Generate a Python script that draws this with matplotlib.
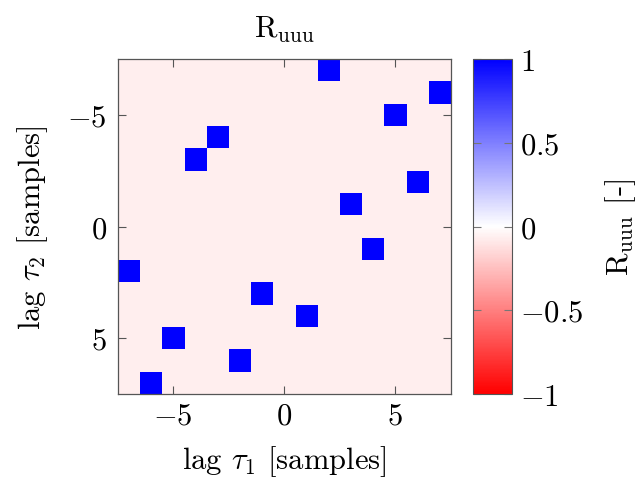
import numpy as np
import matplotlib
matplotlib.use('Agg')
import matplotlib.pyplot as plt
from matplotlib.colors import LinearSegmentedColormap

plt.rcParams['font.family'] = 'serif'
plt.rcParams['font.serif'] = ['cmr10', 'DejaVu Serif']
plt.rcParams['mathtext.fontset'] = 'cm'
plt.rcParams['axes.formatter.use_mathtext'] = True
plt.rcParams['axes.unicode_minus'] = True

# lags in samples
lags = np.arange(-7, 8)
# cells where R_uuu is 1 (tau1, tau2)
peak_tau1 = [2, 7, 5, -3, -4, 6, 3, 4, -7, -1, 1, -5, -2, -6]
peak_tau2 = [-7, -6, -5, -4, -3, -2, -1, 1, 2, 3, 4, 5, 6, 7]
peak_value = 1.0
background_value = -0.07

cbar_ticks = [-1, -0.5, 0, 0.5, 1]
cbar_labels = [r'$-1$', r'$-0.5$', r'$0$', r'$0.5$', r'$1$']

R = np.full((len(lags), len(lags)), background_value)
for t1, t2 in zip(peak_tau1, peak_tau2):
    R[t2 + 7, t1 + 7] = peak_value

cmap = LinearSegmentedColormap.from_list('rwb', ['red', 'white', 'blue'])

fs = 22
fig = plt.figure(figsize=(6.4, 4.81), dpi=100)
ax = fig.add_axes([0.184, 0.179, 0.520, 0.696])
cax = fig.add_axes([0.739, 0.179, 0.061, 0.696])

im = ax.imshow(R, cmap=cmap, vmin=-1, vmax=1, interpolation='nearest',
               extent=(lags[0] - 0.5, lags[-1] + 0.5, lags[-1] + 0.5, lags[0] - 0.5),
               aspect='auto')
ax.set_xticks([-5, 0, 5])
ax.set_yticks([-5, 0, 5])
ax.tick_params(direction='in', top=True, right=True, labelsize=fs, length=6,
               color='#555555')
ax.tick_params(axis='x', pad=6)
ax.tick_params(axis='y', pad=8)
for s in ax.spines.values():
    s.set_color('#555555')
    s.set_linewidth(0.9)

ax.set_xlabel(r'lag $\tau_1$ [samples]', fontsize=fs, labelpad=10)
ax.set_ylabel(r'lag $\tau_2$ [samples]', fontsize=fs, labelpad=12)
ax.set_title(r'R$_\mathrm{uuu}$', fontsize=fs, pad=16)

cb = fig.colorbar(im, cax=cax, ticks=cbar_ticks)
cb.ax.set_yticklabels(cbar_labels)
cb.ax.tick_params(direction='in', labelsize=fs, length=6, color='#777777',
                  left=True, right=True, pad=6)
cb.outline.set_edgecolor('#555555')
cb.set_label(r'R$_\mathrm{uuu}$ [-]', fontsize=fs, labelpad=14)

fig.savefig('out.png', dpi=100)
